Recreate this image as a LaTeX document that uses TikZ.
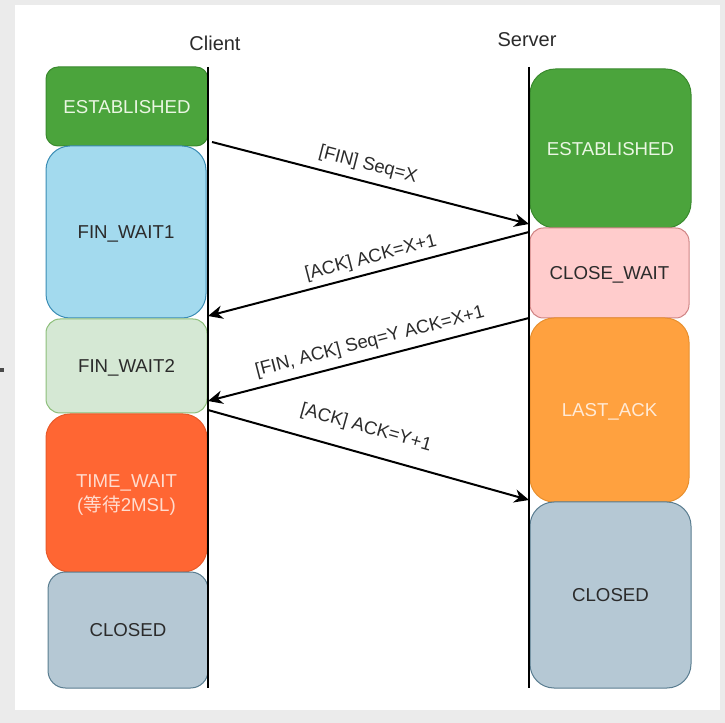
\documentclass[tikz,border=0pt]{standalone}
\usepackage{fontspec}
\setmainfont{Liberation Sans}
\newfontfamily\cjk{Noto Sans CJK SC}
\usetikzlibrary{arrows.meta}

\definecolor{frameGrey}{HTML}{EBEBEB}
\definecolor{markGrey}{HTML}{4A4A4A}
\definecolor{txtDark}{HTML}{2B2B2B}
\definecolor{estFill}{HTML}{4BA43C}
\definecolor{estLine}{HTML}{3A8A2E}
\definecolor{estText}{HTML}{EAF6E2}
\definecolor{fw1Fill}{HTML}{A3DAEE}
\definecolor{fw1Line}{HTML}{3B8DB5}
\definecolor{fw2Fill}{HTML}{D5E8D4}
\definecolor{fw2Line}{HTML}{8DBF7A}
\definecolor{twFill}{HTML}{FF6633}
\definecolor{twLine}{HTML}{E85A2A}
\definecolor{twText}{HTML}{FFDCCF}
\definecolor{clFill}{HTML}{B5C8D4}
\definecolor{clLine}{HTML}{5A7D90}
\definecolor{cwFill}{HTML}{FFCCCC}
\definecolor{cwLine}{HTML}{D08585}
\definecolor{laFill}{HTML}{FFA13F}
\definecolor{laLine}{HTML}{E8902F}
\definecolor{laText}{HTML}{FFEAD6}

\tikzset{
  state/.style={draw, line width=0.75pt, align=center, inner sep=0pt,
    font=\fontsize{14}{17.5}\selectfont, text depth=0pt},
  established/.style={state, fill=estFill, draw=estLine, text=estText},
  finwaitone/.style={state, fill=fw1Fill, draw=fw1Line, text=txtDark},
  finwaittwo/.style={state, fill=fw2Fill, draw=fw2Line, text=txtDark},
  timewait/.style={state, fill=twFill, draw=twLine, text=twText},
  closedst/.style={state, fill=clFill, draw=clLine, text=txtDark},
  closewait/.style={state, fill=cwFill, draw=cwLine, text=txtDark},
  lastack/.style={state, fill=laFill, draw=laLine, text=laText},
  party/.style={font=\fontsize{15}{18}\selectfont, text=txtDark},
  lifeline/.style={line width=1.5pt, black},
  msgarrow/.style={line width=1.5pt, black,
    -{Stealth[length=11pt, width=10pt, inset=3.5pt]}},
  msg/.style={font=\fontsize{13.8}{16}\selectfont, text=txtDark, inner sep=0pt},
}

\begin{document}
\begin{tikzpicture}[x=0.75pt, y=-0.75pt]
  % frame and page
  \path[use as bounding box, fill=frameGrey] (0,0) rectangle (725,723);
  \fill[white] (15,5) rectangle (720,710);
  \fill[markGrey] (0,368) rectangle (4,372);

  % party titles
  \node[party] (client) at (215,43) {Client};
  \node[party] (server) at (527,40) {Server};

  % client states
  \node[established, minimum width=121.5pt, minimum height=59.25pt, rounded corners=9pt]
    (cEst) at (127,106.5) {ESTABLISHED};
  \node[finwaitone, minimum width=120pt, minimum height=129pt, rounded corners=18pt]
    (cFw1) at (126,232) {FIN\_WAIT1};
  \node[finwaittwo, minimum width=120.75pt, minimum height=70.5pt, rounded corners=10.5pt]
    (cFw2) at (126.5,366) {FIN\_WAIT2};
  \node[timewait, minimum width=120.75pt, minimum height=118.5pt, rounded corners=18pt]
    (cTw) at (126.5,493) {TIME\_WAIT\\({\cjk 等待}2MSL)};
  \node[closedst, minimum width=120pt, minimum height=87pt, rounded corners=13pt]
    (cCl) at (128,630) {CLOSED};

  % server states
  \node[established, minimum width=120.75pt, minimum height=119.25pt, rounded corners=19pt]
    (sEst) at (610.5,148.5) {ESTABLISHED};
  \node[closewait, minimum width=119.25pt, minimum height=67.5pt, rounded corners=10pt]
    (sCw) at (609.5,273) {CLOSE\_WAIT};
  \node[lastack, minimum width=119.25pt, minimum height=138pt, rounded corners=18pt]
    (sLa) at (609.5,410) {LAST\_ACK};
  \node[closedst, minimum width=120.75pt, minimum height=139.5pt, rounded corners=18pt]
    (sCl) at (610.5,595) {CLOSED};

  % lifelines
  \coordinate (cTop) at (208,67);
  \coordinate (cBot) at (208,688);
  \coordinate (sTop) at (529,67);
  \coordinate (sBot) at (529,688);
  \draw[lifeline] (cTop) -- (cBot);
  \draw[lifeline] (sTop) -- (sBot);

  % message end points on the lifelines
  \coordinate (m1a) at (212,142);
  \coordinate (m1b) at (529,224);
  \coordinate (m2a) at (529,232);
  \coordinate (m2b) at (208,316);
  \coordinate (m3a) at (529,318);
  \coordinate (m3b) at (208,401);
  \coordinate (m4a) at (208,410);
  \coordinate (m4b) at (529,500);

  % messages
  \draw[msgarrow] (m1a) -- (m1b);
  \draw[msgarrow] (m2a) -- (m2b);
  \draw[msgarrow] (m3a) -- (m3b);
  \draw[msgarrow] (m4a) -- (m4b);

  \node[msg, rotate=-14.5] (l1) at (368,165) {[FIN] Seq=X};
  \node[msg, rotate=14.7]  (l2) at (371,258) {[ACK] ACK=X+1};
  \node[msg, rotate=14.5]  (l3) at (370,342) {[FIN, ACK] Seq=Y ACK=X+1};
  \node[msg, rotate=-15.7] (l4) at (366,428) {[ACK] ACK=Y+1};
\end{tikzpicture}
\end{document}
